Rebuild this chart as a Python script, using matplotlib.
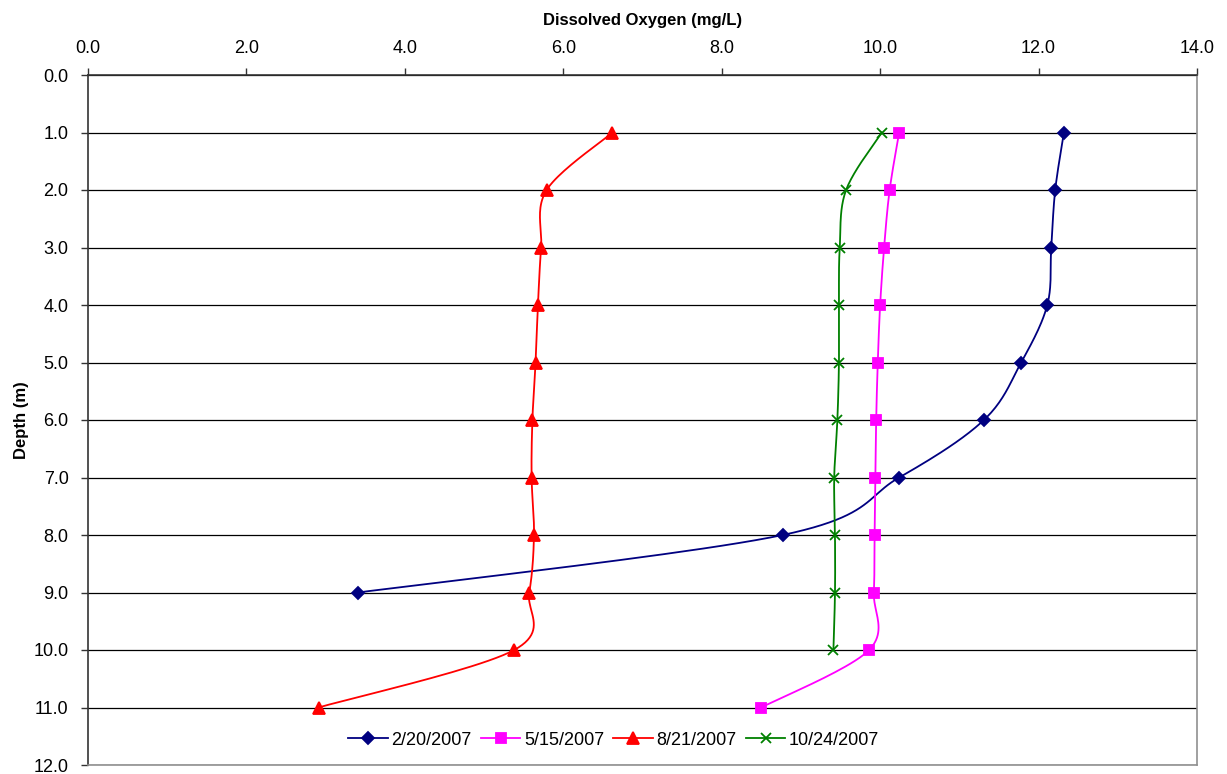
import numpy as np
import matplotlib.pyplot as plt

plt.rcParams['font.family'] = ['Liberation Sans', 'DejaVu Sans']

# depth (m) and dissolved oxygen (mg/L) for each sampling date
depth_feb = [1, 2, 3, 4, 5, 6, 7, 8, 9]
do_feb = [12.32, 12.21, 12.16, 12.11, 11.78, 11.31, 10.24, 8.77, 3.41]

depth_may = [1, 2, 3, 4, 5, 6, 7, 8, 9, 10, 11]
do_may = [10.24, 10.12, 10.05, 10.0, 9.97, 9.95, 9.94, 9.93, 9.92, 9.86, 8.50]

depth_aug = [1, 2, 3, 4, 5, 6, 7, 8, 9, 10, 11]
do_aug = [6.62, 5.79, 5.72, 5.68, 5.65, 5.61, 5.60, 5.63, 5.57, 5.38, 2.91]

depth_oct = [1, 2, 3, 4, 5, 6, 7, 8, 9, 10]
do_oct = [10.02, 9.57, 9.49, 9.48, 9.48, 9.46, 9.42, 9.43, 9.43, 9.41]

labels = ['2/20/2007', '5/15/2007', '8/21/2007', '10/24/2007']


def smooth(x, y, n=24):
    # excel-like smoothed line (bezier through the points)
    p = np.column_stack([x, y]).astype(float)
    pts = [p[0]]
    for i in range(len(p) - 1):
        p0 = p[i - 1] if i > 0 else p[i]
        p3 = p[i + 2] if i + 2 < len(p) else p[i + 1]
        c1 = p[i] + (p[i + 1] - p0) / 6
        c2 = p[i + 1] - (p3 - p[i]) / 6
        t = np.linspace(0, 1, n)[1:, None]
        seg = ((1 - t) ** 3 * p[i] + 3 * (1 - t) ** 2 * t * c1
               + 3 * (1 - t) * t ** 2 * c2 + t ** 3 * p[i + 1])
        pts.extend(seg)
    pts = np.array(pts)
    return pts[:, 0], pts[:, 1]


fig = plt.figure(figsize=(12.27, 7.74), dpi=100)
ax = fig.add_axes([88 / 1227, 1 - 765 / 774, 1109 / 1227, 690 / 774])

series = [
    (do_feb, depth_feb, '#000080', 'D', 6.5),
    (do_may, depth_may, '#FF00FF', 's', 7.5),
    (do_aug, depth_aug, '#FF0000', '^', 8.5),
    (do_oct, depth_oct, '#008000', 'x', 7.5),
]
for (x, y, c, m, ms), lab in zip(series, labels):
    sx, sy = smooth(x, y)
    ax.plot(sx, sy, color=c, lw=1.3, zorder=3)
    ax.plot(x, y, ls='none', marker=m, color=c, ms=ms, mew=1.3, zorder=4)
    ax.plot([], [], color=c, lw=1.3, marker=m, ms=ms, mew=1.3, label=lab)

ax.set_xlim(0, 14)
ax.set_ylim(12, 0)
ax.set_xticks(np.arange(0, 14.1, 2))
ax.set_yticks(np.arange(0, 12.1, 1))
ax.xaxis.set_major_formatter(plt.FormatStrFormatter('%.1f'))
ax.yaxis.set_major_formatter(plt.FormatStrFormatter('%.1f'))
ax.xaxis.tick_top()
ax.xaxis.set_label_position('top')
ax.tick_params(axis='both', direction='out', length=5, width=1, color='#333333',
               labelsize=13)
ax.tick_params(axis='x', pad=8)
ax.tick_params(axis='y', pad=9)
ax.set_xlabel('Dissolved Oxygen (mg/L)', fontsize=12, fontweight='bold', labelpad=11)
ax.set_ylabel('Depth (m)', fontsize=12, fontweight='bold', labelpad=3)

ax.yaxis.grid(True, color='black', lw=0.9)
ax.set_axisbelow(True)
for s in ['left', 'top']:
    ax.spines[s].set_color('#333333')
    ax.spines[s].set_linewidth(1.2)
for s in ['right', 'bottom']:
    ax.spines[s].set_color('#909090')
    ax.spines[s].set_linewidth(1.2)

leg = ax.legend(loc='center', bbox_to_anchor=(0.474, 0.036), ncol=4, frameon=False,
                fontsize=13, handlelength=2.2, handletextpad=0.2, columnspacing=0.5)

plt.savefig('out.png', dpi=100)
